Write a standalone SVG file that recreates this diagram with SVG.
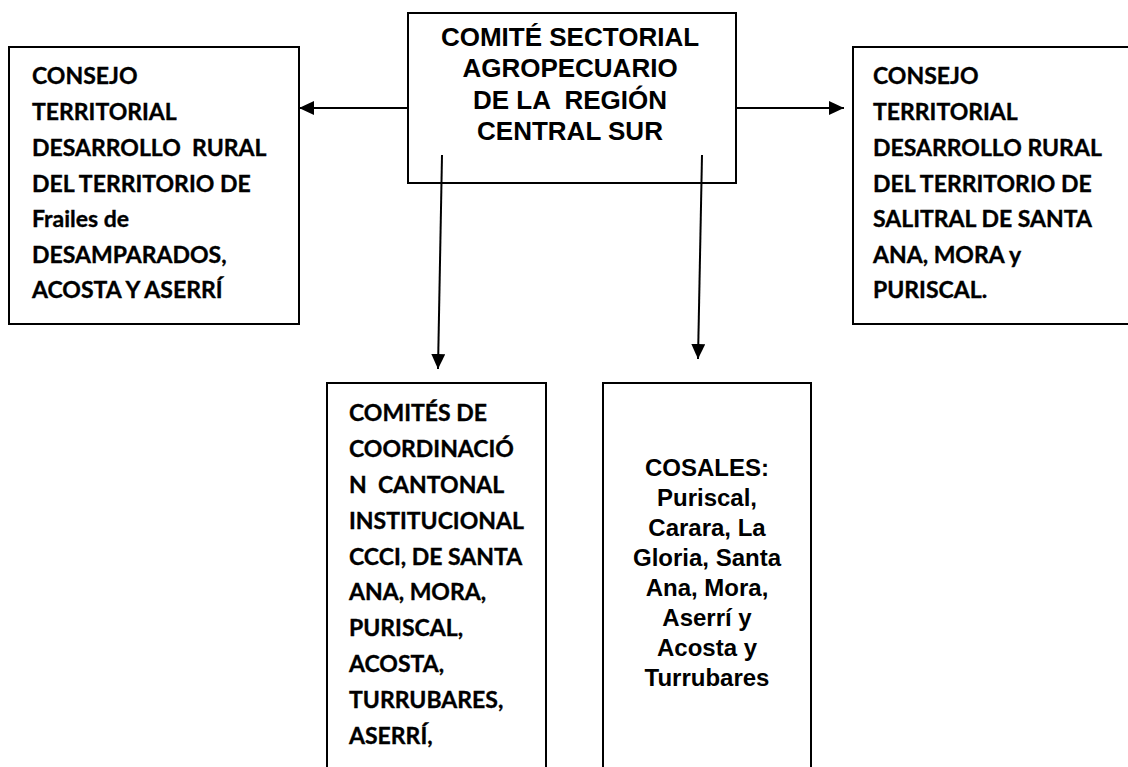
<svg xmlns="http://www.w3.org/2000/svg" width="1128" height="767" viewBox="0 0 1128 767">
<style>
.box{fill:#fff;stroke:#000;stroke-width:2}
.cal{font-family:Lato,"Open Sans","DejaVu Sans",sans-serif;font-weight:bold;font-size:23px;fill:#000;stroke:#000;stroke-width:0.35}
.ari{font-family:"Liberation Sans",Arial,sans-serif;font-weight:bold;font-size:24px;fill:#000;text-anchor:middle}
.ttl{font-size:26px}
.con{stroke:#000;stroke-width:2;fill:none}
</style>
<defs>
<marker id="ah" markerUnits="userSpaceOnUse" markerWidth="16" markerHeight="14" refX="15" refY="7" orient="auto">
<path d="M0,0 L15,7 L0,14 Z" fill="#000"/>
</marker>
</defs>
<g id="connectors">
<line class="con" x1="408" y1="108" x2="299" y2="108" marker-end="url(#ah)"/>
<line class="con" x1="736" y1="108" x2="844" y2="108" marker-end="url(#ah)"/>
<line class="con" x1="442" y1="155" x2="438" y2="369" marker-end="url(#ah)"/>
<line class="con" x1="702" y1="155" x2="698" y2="359" marker-end="url(#ah)"/>
</g>
<g id="top">
<rect class="box" x="408" y="13" width="328" height="170" style="fill:none"/>
<text class="ari ttl" x="570" y="46">COMITÉ SECTORIAL</text>
<text class="ari ttl" x="570" y="77">AGROPECUARIO</text>
<text class="ari ttl" x="570" y="109" xml:space="preserve">DE LA  REGIÓN</text>
<text class="ari ttl" x="570" y="140">CENTRAL SUR</text>
</g>
<g id="left">
<rect class="box" x="9" y="47" width="290" height="277"/>
<text class="cal" x="32" y="84">CONSEJO</text>
<text class="cal" x="32" y="120">TERRITORIAL</text>
<text class="cal" x="32" y="156" xml:space="preserve">DESARROLLO  RURAL</text>
<text class="cal" x="32" y="192">DEL TERRITORIO DE</text>
<text class="cal" x="32" y="227">Frailes de</text>
<text class="cal" x="32" y="263">DESAMPARADOS,</text>
<text class="cal" x="32" y="298">ACOSTA Y ASERRÍ</text>
</g>
<g id="right">
<rect class="box" x="853" y="47" width="290" height="277"/>
<text class="cal" x="873" y="84">CONSEJO</text>
<text class="cal" x="873" y="120">TERRITORIAL</text>
<text class="cal" x="873" y="156">DESARROLLO RURAL</text>
<text class="cal" x="873" y="192">DEL TERRITORIO DE</text>
<text class="cal" x="873" y="227">SALITRAL DE SANTA</text>
<text class="cal" x="873" y="263">ANA, MORA y</text>
<text class="cal" x="873" y="298">PURISCAL.</text>
</g>
<g id="ccci">
<rect class="box" x="327" y="383" width="219" height="400"/>
<text class="cal" x="349" y="421">COMITÉS DE</text>
<text class="cal" x="349" y="457">COORDINACIÓ</text>
<text class="cal" x="349" y="493" xml:space="preserve">N  CANTONAL</text>
<text class="cal" x="349" y="529">INSTITUCIONAL</text>
<text class="cal" x="349" y="565">CCCI, DE SANTA</text>
<text class="cal" x="349" y="600">ANA, MORA,</text>
<text class="cal" x="349" y="636">PURISCAL,</text>
<text class="cal" x="349" y="672">ACOSTA,</text>
<text class="cal" x="349" y="708">TURRUBARES,</text>
<text class="cal" x="349" y="744">ASERRÍ,</text>
</g>
<g id="cosales">
<rect class="box" x="603" y="383" width="208" height="400"/>
<text class="ari" x="707" y="476">COSALES:</text>
<text class="ari" x="707" y="506">Puriscal,</text>
<text class="ari" x="707" y="536">Carara, La</text>
<text class="ari" x="707" y="566">Gloria, Santa</text>
<text class="ari" x="707" y="596">Ana, Mora,</text>
<text class="ari" x="707" y="626">Aserrí y</text>
<text class="ari" x="707" y="656">Acosta y</text>
<text class="ari" x="707" y="686">Turrubares</text>
</g>
</svg>
